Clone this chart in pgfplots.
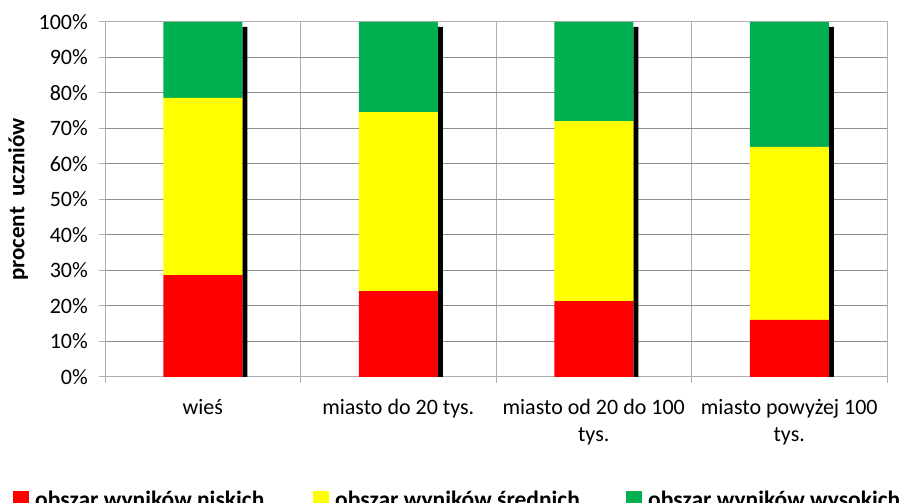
\documentclass[border=0pt]{standalone}
\usepackage{pgfplots}
\pgfplotsset{compat=1.18}
\usepackage{fontspec}
\setmainfont{Carlito}
\definecolor{cred}{HTML}{FF0000}
\definecolor{cyel}{HTML}{FFFF00}
\definecolor{cgrn}{HTML}{00B050}
\definecolor{gridh}{HTML}{8E8E8E}
\definecolor{gridv}{HTML}{AEAEAE}
\newcommand{\tl}[1]{\begin{tabular}[t]{@{}c@{}}#1\end{tabular}}
\begin{document}
\begin{tikzpicture}
\useasboundingbox (0,0) rectangle (906bp,503bp);
\pgfplotsset{
  base/.style={
    scale only axis, width=782bp, height=355bp,
    at={(105bp,126bp)}, anchor=south west,
    xmin=0, xmax=4, ymin=0, ymax=100,
  },
  sq legend/.style={legend image code/.code={
    \fill[##1] (0bp,-1bp) rectangle (16bp,16bp);
    \path (22bp,0bp);}},
}
\begin{axis}[base,
  axis line style={gridv, line width=1bp},
  ytick={0,10,...,100},
  yticklabel={\pgfmathprintnumber{\tick}\%},
  /pgf/number format/assume math mode=true,
  xtick={0,1,2,3,4}, xticklabels={},
  ymajorgrids, xmajorgrids,
  y grid style={gridh, line width=1bp},
  x grid style={gridv, line width=1bp},
  tick style={gridv, line width=1bp},
  tick align=outside, major tick length=6bp,
  xtick pos=bottom, ytick pos=left,
  tick label style={font=\fontsize{22bp}{27bp}\selectfont, text=black},
  yticklabel style={inner sep=0pt, anchor=east, xshift=-11bp},
  extra x ticks={0.5,1.5,2.5,3.5},
  extra x tick labels={\tl{wieś}, \tl{miasto do 20 tys.}, \tl{miasto od 20 do 100\\tys.}, \tl{miasto powyżej 100\\tys.}},
  extra x tick style={grid=none, major tick length=0pt,
    xticklabel style={anchor=base, inner sep=0pt, yshift=-38bp}},
  ylabel={procent\ \ uczniów},
  ylabel style={font=\bfseries\fontsize{23bp}{27bp}\selectfont, at={(axis description cs:-0.111,0.5)}, anchor=center},
]
\addplot[ybar, bar width=5bp, bar shift=42bp, fill=black, draw=none]
  coordinates {(0.5,98.6) (1.5,98.6) (2.5,98.6) (3.5,98.6)};
\end{axis}
\begin{axis}[base, hide axis, ybar stacked, bar width=79bp,
  legend columns=3,
  legend style={at={(-0.1176,-0.371)}, anchor=south west, draw=none, fill=none,
    inner sep=0pt, font=\bfseries\fontsize{23.5bp}{27bp}\selectfont,
    nodes={inner sep=0pt}, cells={anchor=base west},
    /tikz/every even column/.append style={column sep=0pt},
    /tikz/every odd column/.append style={column sep=0pt}},
]
\addplot[fill=cred, draw=none, sq legend] coordinates {(0.5,28.7) (1.5,24.2) (2.5,21.4) (3.5,16.1)};
\addplot[fill=cyel, draw=none, sq legend] coordinates {(0.5,49.9) (1.5,50.4) (2.5,50.7) (3.5,48.7)};
\addplot[fill=cgrn, draw=none, sq legend] coordinates {(0.5,21.4) (1.5,25.4) (2.5,27.9) (3.5,35.2)};
\legend{\makebox[278bp][l]{obszar wyników niskich}, \makebox[291bp][l]{obszar wyników średnich}, obszar wyników wysokich}
\end{axis}
\end{tikzpicture}
\end{document}
